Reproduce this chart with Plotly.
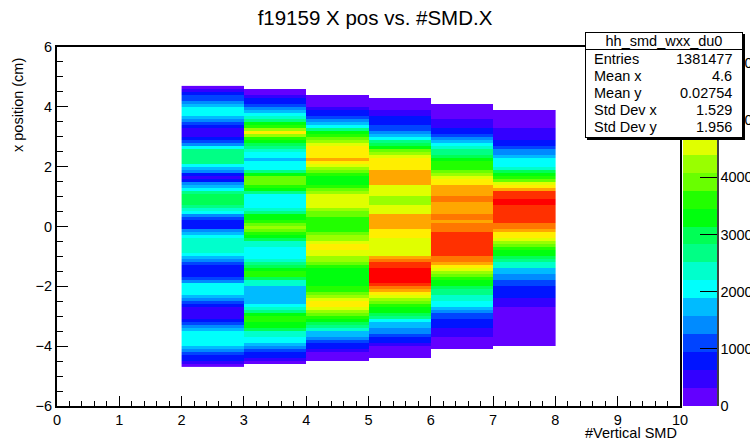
import colorsys
import plotly.graph_objects as go

# ---------------- data ----------------
TITLE = "f19159 X pos vs. #SMD.X"
X_TITLE = "#Vertical SMD"
Y_TITLE = "x position (cm)"
X_EDGES = [2, 3, 4, 5, 6, 7, 8]          # #Vertical SMD bins
Y_EDGES = [round(-4.7 + 0.1 * i, 1) for i in range(95)]  # 0.1 cm bins
CB_TICKS = [0, 1000, 2000, 3000, 4000, 5000, 6000]
Z_MAX = 6280

# bin contents per SMD column, listed from the top bin (4.6..4.7) down to the bottom bin (-4.7..-4.6)
SMD2 = [160, 470, 790, 1100, 1100, 1410, 1730, 2040, 2040, 2040,
        1730, 1410, 1100, 790, 470, 470, 470, 790, 1100, 1410,
        2040, 2670, 2670, 2670, 2670, 2670, 2040, 1730, 1410, 790,
        470, 790, 1410, 1730, 2040, 2670, 2980, 2980, 2980, 2980,
        2670, 2360, 2040, 1410, 1100, 790, 790, 790, 1410, 1730,
        2040, 2360, 2360, 2360, 2360, 2360, 2040, 1730, 1410, 1100,
        790, 790, 790, 790, 1100, 1410, 2040, 2040, 2040, 2040,
        1730, 1410, 1100, 790, 470, 470, 470, 470, 790, 1100,
        1410, 1730, 2040, 2040, 2040, 2040, 2040, 1730, 1410, 1100,
        790, 790, 470, 160]
SMD3 = [None,
        160, 160, 470, 790, 790, 1100, 1410, 1730, 2040,
        2360, 2670, 3300, 3610, 4240, 4870, 4240, 3610, 3300, 2980,
        2670, 2360, 2040, 2040, 1730, 2040, 2040, 2040, 2670, 3300,
        3920, 3920, 3920, 3610, 3300, 2670, 2040, 2040, 2040, 2040,
        2040, 2360, 2670, 3300, 3300, 3610, 3920, 4240, 3920, 3610,
        3300, 2980, 2360, 2360, 2040, 2040, 2040, 2040, 2360, 2670,
        2980, 3300, 3610, 3610, 2980, 2360, 2360, 1730, 1730, 1730,
        1730, 1730, 1730, 2040, 2360, 2670, 3300, 3610, 3610, 3300,
        3300, 2980, 2360, 2360, 2040, 2040, 1730, 1410, 1100, 790,
        790, 470, 160,
        None]
SMD4 = [None, None, None,
        160, 160, 160, 160, 470, 790, 790,
        1100, 1410, 1730, 2040, 2670, 3300, 3610, 3920, 4240, 4550,
        4870, 4870, 4870, 4870, 5180, 4870, 4550, 4240, 3920, 3610,
        3300, 3300, 3300, 3610, 3920, 4240, 4550, 4550, 4550, 4550,
        4550, 4240, 3920, 3920, 3610, 3610, 3610, 3610, 3610, 3920,
        4240, 4240, 4550, 4870, 4870, 4550, 4550, 4240, 4240, 3920,
        3610, 3300, 3300, 3300, 3300, 3300, 3300, 3610, 3610, 3920,
        4240, 4550, 4870, 4870, 4550, 4240, 3920, 3610, 3300, 2980,
        2670, 2360, 1730, 1730, 1410, 1100, 790, 790, 470, 160,
        160, 160,
        None, None]
SMD5 = [None, None, None, None,
        160, 160, 160, 160, 470, 470,
        790, 790, 790, 1100, 1100, 1410, 1730, 2040, 2670, 2980,
        3300, 3920, 4240, 4550, 4870, 4870, 4870, 4870, 5180, 5180,
        5180, 5180, 5180, 4550, 4550, 4550, 4550, 4240, 4240, 4240,
        4550, 4550, 4550, 5180, 5180, 5180, 5180, 5180, 4870, 4870,
        4870, 4550, 4550, 4550, 4550, 4550, 4550, 5180, 5500, 5810,
        5810, 6120, 6120, 6120, 6120, 6120, 5810, 5500, 5180, 4870,
        4550, 4240, 3920, 3610, 3300, 3300, 2980, 2670, 2040, 1730,
        1730, 1410, 1410, 1100, 790, 790, 470, 160, 160, 160,
        160,
        None, None, None]
SMD6 = [None, None, None, None, None, None,
        160, 160, 160, 160,
        160, 470, 470, 470, 790, 790, 1100, 1410, 1730, 2040,
        2360, 2670, 2670, 2980, 3300, 3610, 3610, 3610, 3920, 4240,
        4550, 4870, 4870, 5180, 5180, 5180, 5180, 5500, 5500, 5180,
        5180, 5180, 5180, 5500, 5500, 5180, 5500, 5500, 5500, 5810,
        5810, 5810, 5810, 5810, 5810, 5810, 5810, 5500, 5500, 5180,
        4870, 4550, 4240, 3920, 3610, 3300, 3300, 2980, 2670, 2670,
        2360, 2360, 2040, 2040, 1730, 1410, 1100, 1100, 790, 790,
        790, 470, 470, 470, 160, 160, 160, 160,
        None, None, None, None, None, None]
SMD7 = [None, None, None, None, None, None, None, None,
        160, 160,
        160, 160, 160, 160, 470, 470, 470, 470, 790, 790,
        1100, 1410, 1410, 1730, 2040, 2040, 2040, 2360, 2980, 3300,
        3610, 3920, 4550, 4870, 5180, 5810, 5810, 5810, 6120, 6120,
        5810, 5810, 5810, 5810, 5810, 5810, 5500, 5500, 5180, 4870,
        4870, 4550, 4240, 3920, 3610, 3300, 3300, 2980, 2670, 2360,
        2360, 1730, 1730, 1410, 1410, 1100, 1100, 790, 790, 790,
        790, 470, 470, 470, 160, 160, 160, 160, 160, 160,
        160, 160, 160, 160, 160, 160, 160,
        None, None, None, None, None, None, None]

STATS_NAME = "hh_smd_wxx_du0"
STATS_LABELS = ["Entries", "Mean x", "Mean y", "Std Dev x", "Std Dev y"]
STATS_VALUES = ["1381477", "4.6", "0.02754", "1.529", "1.956"]

# ---------------- build ----------------
columns = [SMD2, SMD3, SMD4, SMD5, SMD6, SMD7]
nrows = len(Y_EDGES) - 1
z = []
for i in range(nrows):             # bottom -> top
    z.append([col[nrows - 1 - i] for col in columns])

# ROOT "pretty" palette (SetPalette(1)), 20 contour levels
ncont = 20
cs = []
for k in range(ncont):
    idx = int((k + 0.99) * 50 / ncont)
    hue = 280 - (idx + 1) * (280 / 50)
    r, g, b = colorsys.hls_to_rgb(hue / 360.0, 0.5, 1.0)
    c = "rgb(%d,%d,%d)" % (round(r * 255), round(g * 255), round(b * 255))
    cs.append([k / ncont, c])
    cs.append([(k + 1) / ncont, c])

FONT = "Liberation Sans, Arial, Helvetica, sans-serif"
PX_L, PX_R, PX_T, PX_B = 57, 680, 47, 406
W, H = 750, 440


def fx(px):
    return (px - PX_L) / (PX_R - PX_L)


def fy(py):
    return (PX_B - py) / (PX_B - PX_T)


fig = go.Figure()
fig.add_trace(go.Heatmap(
    x=X_EDGES, y=Y_EDGES, z=z,
    colorscale=cs, zmin=0, zmax=Z_MAX, zsmooth=False,
    hoverongaps=False,
    colorbar=dict(
        x=fx(683), xanchor="left", xpad=0,
        y=0.5, yanchor="middle", ypad=0,
        len=1, lenmode="fraction",
        thickness=34, thicknessmode="pixels",
        outlinewidth=0,
        ticks="inside", ticklen=17, tickwidth=1, tickcolor="black",
        tickvals=CB_TICKS, ticktext=[str(v) for v in CB_TICKS],
        tickfont=dict(family=FONT, size=14.5, color="black"),
    ),
))

axis_common = dict(
    showline=True, linewidth=2, linecolor="black", mirror=True,
    ticks="inside", tickcolor="black", tickwidth=1,
    showgrid=False, zeroline=False,
    tickfont=dict(family=FONT, size=14.5, color="black"),
)
fig.update_xaxes(range=[0, 10], dtick=1, tick0=0, ticklen=10,
                 minor=dict(dtick=0.2, ticklen=5, ticks="inside", tickcolor="black", showgrid=False),
                 **axis_common)
fig.update_yaxes(range=[-6, 6], dtick=2, tick0=0, ticklen=11,
                 minor=dict(dtick=0.5, ticklen=6, ticks="inside", tickcolor="black", showgrid=False),
                 **axis_common)

ann = []
# axis titles (ROOT style: right aligned at axis end)
ann.append(dict(text=X_TITLE, xref="paper", yref="paper", x=fx(679), y=fy(433),
                xanchor="right", yanchor="middle", showarrow=False,
                font=dict(family=FONT, size=14.5, color="black")))
ann.append(dict(text=Y_TITLE, xref="paper", yref="paper", x=fx(18), y=fy(56),
                xanchor="center", yanchor="top", textangle=-90, showarrow=False,
                font=dict(family=FONT, size=14.5, color="black")))
# stats box (shadow, box, title cell)
bx_l, bx_r, bx_t, bx_b, bx_div = 585, 743, 32, 138, 50
bw = bx_r - bx_l - 2
bh = bx_b - bx_t - 2
ann.append(dict(text=" ", xref="paper", yref="paper",
                x=fx((bx_l + bx_r) / 2 + 2), y=fy((bx_t + bx_b) / 2 + 2),
                xanchor="center", yanchor="middle", width=bw, height=bh,
                bgcolor="black", bordercolor="black", borderwidth=1, borderpad=0, showarrow=False))
ann.append(dict(text=" ", xref="paper", yref="paper",
                x=fx((bx_l + bx_r) / 2), y=fy((bx_t + bx_b) / 2),
                xanchor="center", yanchor="middle", width=bw, height=bh,
                bgcolor="white", bordercolor="black", borderwidth=1, borderpad=0, showarrow=False))
ann.append(dict(text=STATS_NAME, xref="paper", yref="paper",
                x=fx((bx_l + bx_r) / 2), y=fy((bx_t + bx_div) / 2),
                xanchor="center", yanchor="middle", width=bw, height=bx_div - bx_t - 2,
                bgcolor="white", bordercolor="black", borderwidth=1, borderpad=0, showarrow=False,
                font=dict(family=FONT, size=14.5, color="black")))
rows_y = [59, 76, 93, 110, 127]
for lab, val, ry in zip(STATS_LABELS, STATS_VALUES, rows_y):
    ann.append(dict(text=lab, xref="paper", yref="paper", x=fx(592), y=fy(ry),
                    xanchor="left", yanchor="middle", showarrow=False,
                    font=dict(family=FONT, size=14.5, color="black")))
    ann.append(dict(text=val, xref="paper", yref="paper", x=fx(734), y=fy(ry),
                    xanchor="right", yanchor="middle", showarrow=False,
                    font=dict(family=FONT, size=14.5, color="black")))

fig.update_layout(
    width=W, height=H,
    margin=dict(l=PX_L, r=W - PX_R, t=PX_T, b=H - PX_B, autoexpand=False),
    paper_bgcolor="white", plot_bgcolor="white",
    title=dict(text=TITLE, x=0.5, xref="container", xanchor="center",
               y=1 - 18 / H, yref="container", yanchor="middle",
               font=dict(family=FONT, size=20.5, color="black")),
    annotations=ann,
    shapes=[dict(type="line", xref="paper", yref="paper",
                 x0=fx(718), x1=fx(718), y0=0, y1=1,
                 line=dict(color="black", width=1.5))],
    showlegend=False,
)

fig.write_html("out.html")
